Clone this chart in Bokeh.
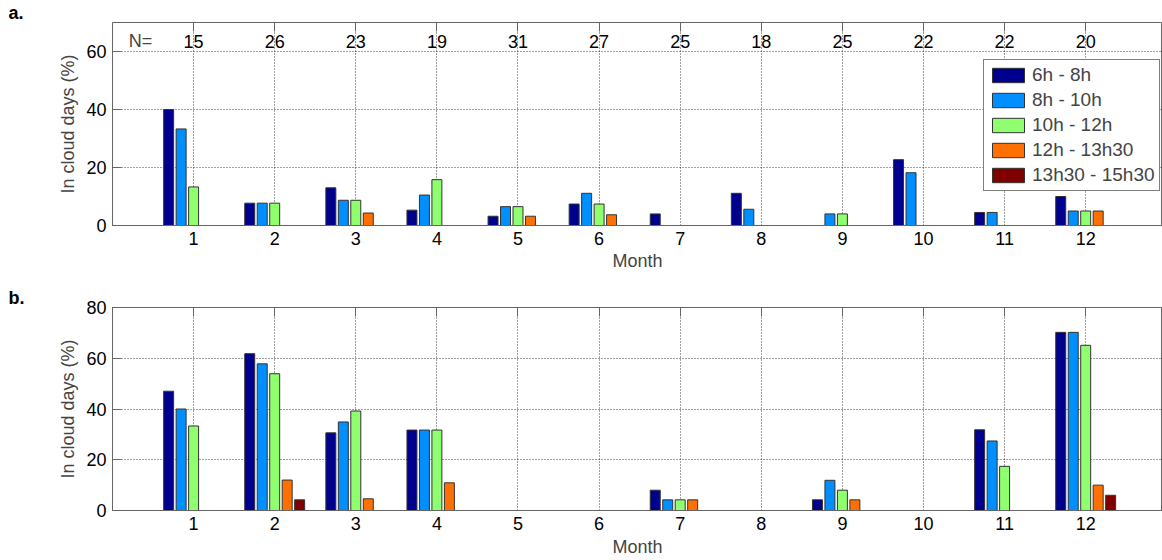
from bokeh.plotting import figure
from bokeh.models import (ColumnDataSource, Legend, LegendItem, Label, LinearAxis,
                          FixedTicker, Range1d, Title)
from bokeh.layouts import column
from bokeh.transform import dodge
from bokeh.embed import file_html
from bokeh.resources import INLINE
from bokeh.core.properties import value

# ---------------- data ----------------
months = [1, 2, 3, 4, 5, 6, 7, 8, 9, 10, 11, 12]
series_labels = ["6h - 8h", "8h - 10h", "10h - 12h", "12h - 13h30", "13h30 - 15h30"]
series_colors = ["#00008F", "#008FFF", "#8FFF70", "#FF7000", "#800000"]
n_days = [15, 26, 23, 19, 31, 27, 25, 18, 25, 22, 22, 20]

# panel a
a_6_8 = [40.0, 7.7, 13.0, 5.3, 3.2, 7.4, 4.0, 11.1, 0, 22.7, 4.5, 10.0]
a_8_10 = [33.3, 7.7, 8.7, 10.5, 6.5, 11.1, 0, 5.6, 4.0, 18.2, 4.5, 5.0]
a_10_12 = [13.3, 7.7, 8.7, 15.8, 6.5, 7.4, 0, 0, 4.0, 0, 0, 5.0]
a_12_1330 = [0, 0, 4.3, 0, 3.2, 3.7, 0, 0, 0, 0, 0, 5.0]
a_1330_1530 = [0, 0, 0, 0, 0, 0, 0, 0, 0, 0, 0, 0]

# panel b
b_6_8 = [47.0, 61.8, 30.6, 31.7, 0, 0, 8.0, 0, 4.2, 0, 31.8, 70.2]
b_8_10 = [40.0, 57.8, 34.9, 31.7, 0, 0, 4.2, 0, 11.9, 0, 27.4, 70.2]
b_10_12 = [33.3, 53.9, 39.2, 31.7, 0, 0, 4.2, 0, 8.0, 0, 17.4, 65.1]
b_12_1330 = [0, 12.0, 4.6, 10.9, 0, 0, 4.2, 0, 4.2, 0, 0, 10.0]
b_1330_1530 = [0, 4.2, 0, 0, 0, 0, 0, 0, 0, 0, 0, 6.0]

panel_a = [a_6_8, a_8_10, a_10_12, a_12_1330, a_1330_1530]
panel_b = [b_6_8, b_8_10, b_10_12, b_12_1330, b_1330_1530]

# ---------------- styling ----------------
FONT = "Liberation Sans"
FS = "18px"
AXC = "#666666"
offsets = [-0.3077, -0.1538, 0.0, 0.1538, 0.3077]
BAR_W = 0.123
X_END = 12.947
LEFT = 112


def make_panel(values, ymax, yticks, height, border_top, border_bottom,
               label_standoff, tag):
    p = figure(width=1162, height=height, x_range=Range1d(0, X_END), y_range=Range1d(0, ymax),
               output_backend="svg", toolbar_location=None,
               min_border_left=LEFT, min_border_right=0,
               min_border_top=border_top, min_border_bottom=border_bottom,
               x_axis_label="Month", y_axis_label="In cloud days (%)")
    p.title = Title(text=tag, align="left", offset=-(LEFT - 8), standoff=0,
                    text_font=FONT, text_font_size=FS, text_font_style="bold",
                    text_color="black")
    p.outline_line_color = AXC
    p.outline_line_width = 1
    p.background_fill_color = "white"
    p.border_fill_color = "white"

    xa = p.xaxis[0]
    xa.ticker = FixedTicker(ticks=months)
    xa.major_tick_in = 0
    xa.major_tick_out = 0
    xa.minor_tick_line_color = None
    xa.axis_line_color = AXC
    xa.major_label_text_font = FONT
    xa.major_label_text_font_size = FS
    xa.major_label_text_color = "black"
    xa.major_label_standoff = 6
    xa.axis_label_text_font = FONT
    xa.axis_label_text_font_size = FS
    xa.axis_label_text_font_style = "normal"
    xa.axis_label_standoff = label_standoff

    ya = p.yaxis[0]
    ya.ticker = FixedTicker(ticks=yticks)
    ya.major_tick_in = 9
    ya.major_tick_out = 0
    ya.major_tick_line_color = AXC
    ya.minor_tick_line_color = None
    ya.axis_line_color = AXC
    ya.major_label_text_font = FONT
    ya.major_label_text_font_size = FS
    ya.major_label_text_color = "black"
    ya.major_label_standoff = 6
    ya.axis_label_text_font = FONT
    ya.axis_label_text_font_size = FS
    ya.axis_label_text_font_style = "normal"
    ya.axis_label_standoff = 5

    top_ax = LinearAxis(ticker=FixedTicker(ticks=months),
                        major_label_overrides={m: "" for m in months},
                        major_label_text_font_size="0px",
                        major_tick_in=9, major_tick_out=0,
                        major_tick_line_color=AXC, minor_tick_line_color=None,
                        axis_line_color=None, major_label_standoff=0)
    p.add_layout(top_ax, "above")

    p.xgrid.ticker = FixedTicker(ticks=months)
    p.ygrid.ticker = FixedTicker(ticks=yticks)
    for g in (p.xgrid[0], p.ygrid[0]):
        g.grid_line_color = "black"
        g.grid_line_alpha = 0.75
        g.grid_line_dash = "1 2"
        g.grid_line_width = 1

    renderers = []
    for vals, color, off in zip(values, series_colors, offsets):
        src = ColumnDataSource(dict(month=months, pct=vals))
        r = p.vbar(x=dodge("month", off), top="pct", bottom=0, width=BAR_W, source=src,
                   fill_color=color, line_color="#333333", line_width=1)
        renderers.append(r)
    return p, renderers


p1, r1 = make_panel(panel_a, 70, [0, 20, 40, 60], 285, 19, 60, 3, "a.")
p2, r2 = make_panel(panel_b, 80, [0, 20, 40, 60, 80], 275, 21, 50, 4, "b.")

# N labels in panel a
nsrc = ColumnDataSource(dict(month=months, n=[str(n) for n in n_days]))
p1.text(x="month", y=63.5, text="n", source=nsrc, text_font=value(FONT),
        text_font_size=FS, text_align="center", text_baseline="middle", text_color="black")
p1.add_layout(Label(x=0.2, y=63.5, text="N=", text_font=FONT, text_font_size=FS,
                    text_align="left", text_baseline="middle"))

legend = Legend(items=[LegendItem(label=l, renderers=[r]) for l, r in zip(series_labels, r1)],
                location=(871, 34), glyph_width=40, glyph_height=18, label_height=18,
                label_standoff=4, spacing=3, padding=4, margin=0,
                label_text_font=FONT, label_text_font_size="19px",
                border_line_color="black", border_line_width=1,
                background_fill_color="white", background_fill_alpha=1)
p1.add_layout(legend)

layout = column(p1, p2, spacing=0)
open("out.html", "w").write(file_html(layout, INLINE))
